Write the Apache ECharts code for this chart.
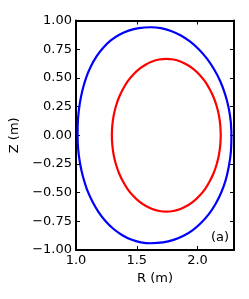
<!DOCTYPE html>
<html>
<head>
<meta charset="utf-8">
<script src="https://cdn.jsdelivr.net/npm/echarts@6/dist/echarts.min.js"></script>
<style>
html,body{margin:0;padding:0;background:#fff;}
#c{width:249px;height:299px;}
</style>
</head>
<body>
<div id="c"></div>
<script>
// Outer boundary (blue), R and Z in metres
const blueR = [2.279, 2.273, 2.255, 2.226, 2.187, 2.137, 2.079, 2.012, 1.940, 1.863, 1.782, 1.699, 1.616,
               1.517, 1.433, 1.356, 1.286, 1.224, 1.169, 1.122, 1.083, 1.053, 1.031, 1.017, 1.013,
               1.018, 1.033, 1.057, 1.090, 1.133, 1.183, 1.242, 1.307, 1.378, 1.454, 1.534, 1.616,
               1.716, 1.803, 1.885, 1.961, 2.030, 2.093, 2.148, 2.194, 2.231, 2.257, 2.274, 2.279];
const blueZ = [0.000, 0.123, 0.244, 0.360, 0.471, 0.573, 0.665, 0.747, 0.815, 0.869, 0.909, 0.933, 0.941,
               0.934, 0.912, 0.876, 0.826, 0.762, 0.687, 0.599, 0.501, 0.393, 0.275, 0.148, 0.000,
               -0.123, -0.244, -0.360, -0.471, -0.573, -0.665, -0.747, -0.815, -0.869, -0.909, -0.933, -0.941,
               -0.934, -0.912, -0.876, -0.826, -0.762, -0.687, -0.599, -0.501, -0.393, -0.275, -0.148, 0.000];
// Inner surface (red)
const redR = [2.191, 2.187, 2.176, 2.157, 2.131, 2.098, 2.060, 2.016, 1.967, 1.914, 1.859, 1.802, 1.743,
              1.685, 1.627, 1.572, 1.519, 1.470, 1.426, 1.388, 1.355, 1.329, 1.310, 1.299, 1.295,
              1.299, 1.310, 1.329, 1.355, 1.388, 1.426, 1.470, 1.519, 1.572, 1.627, 1.685, 1.743,
              1.802, 1.859, 1.914, 1.967, 2.016, 2.060, 2.098, 2.131, 2.157, 2.176, 2.187, 2.191];
const redZ = [0.000, 0.087, 0.172, 0.255, 0.333, 0.405, 0.471, 0.528, 0.577, 0.615, 0.643, 0.660, 0.666,
              0.660, 0.643, 0.615, 0.577, 0.528, 0.471, 0.405, 0.333, 0.255, 0.172, 0.087, 0.000,
              -0.087, -0.172, -0.255, -0.333, -0.405, -0.471, -0.528, -0.577, -0.615, -0.643, -0.660, -0.666,
              -0.660, -0.643, -0.615, -0.577, -0.528, -0.471, -0.405, -0.333, -0.255, -0.172, -0.087, 0.000];

const xTicks = [1.0, 1.5, 2.0];
const xTickLabels = ['1.0', '1.5', '2.0'];
const yTicks = [-1.0, -0.75, -0.5, -0.25, 0, 0.25, 0.5, 0.75, 1.0];
const yTickLabels = ['\u22121.00', '\u22120.75', '\u22120.50', '\u22120.25', '0.00', '0.25', '0.50', '0.75', '1.00'];

const pairs = (a, b) => a.map((v, i) => [v, b[i]]);
const lab = (ticks, labels) => v => {
  const i = ticks.findIndex(t => Math.abs(t - v) < 1e-6);
  return i >= 0 ? labels[i] : '';
};

const font = 'DejaVu Sans';
const lineStyle = {color: '#000', width: 2};
const tickStyle = {show: true, inside: true, length: 4, lineStyle: {color: '#000', width: 1}};

const chart = echarts.init(document.getElementById('c'), null, {renderer: 'canvas'});
chart.setOption({
  animation: false,
  backgroundColor: '#fff',
  grid: {left: 76, right: 15, top: 20.5, bottom: 49, containLabel: false},
  xAxis: [{
    type: 'value', min: 1.0, max: 2.3, interval: 0.5, position: 'bottom',
    name: 'R (m)', nameLocation: 'middle', nameGap: 18,
    nameTextStyle: {fontFamily: font, fontSize: 13, color: '#000'},
    axisLine: {show: true, onZero: false, lineStyle},
    axisTick: tickStyle,
    axisLabel: {fontFamily: font, fontSize: 13, color: '#000', margin: 4, formatter: lab(xTicks, xTickLabels)},
    splitLine: {show: false}
  }, {
    type: 'value', min: 1.0, max: 2.3, interval: 0.5, position: 'top',
    axisLine: {show: true, onZero: false, lineStyle},
    axisTick: tickStyle, axisLabel: {show: false}, splitLine: {show: false}
  }],
  yAxis: [{
    type: 'value', min: -1.0, max: 1.0, interval: 0.25, position: 'left',
    name: 'Z (m)', nameLocation: 'middle', nameGap: 42,
    nameTextStyle: {fontFamily: font, fontSize: 13, color: '#000'},
    axisLine: {show: true, onZero: false, lineStyle},
    axisTick: tickStyle,
    axisLabel: {fontFamily: font, fontSize: 13, color: '#000', margin: 4, formatter: lab(yTicks, yTickLabels)},
    splitLine: {show: false}
  }, {
    type: 'value', min: -1.0, max: 1.0, interval: 0.25, position: 'right',
    axisLine: {show: true, onZero: false, lineStyle},
    axisTick: tickStyle, axisLabel: {show: false}, splitLine: {show: false}
  }],
  graphic: [{
    type: 'text', left: 211, top: 231,
    style: {text: '(a)', fontFamily: font, fontSize: 13, fill: '#000'}
  }],
  series: [{
    type: 'line', data: pairs(blueR, blueZ), smooth: 0.3, symbol: 'none',
    lineStyle: {color: '#0000ff', width: 2.2}, xAxisIndex: 0, yAxisIndex: 0, z: 3
  }, {
    type: 'line', data: pairs(redR, redZ), smooth: 0.3, symbol: 'none',
    lineStyle: {color: '#ff0000', width: 2.2}, xAxisIndex: 0, yAxisIndex: 0, z: 3
  }]
});
</script>
</body>
</html>
